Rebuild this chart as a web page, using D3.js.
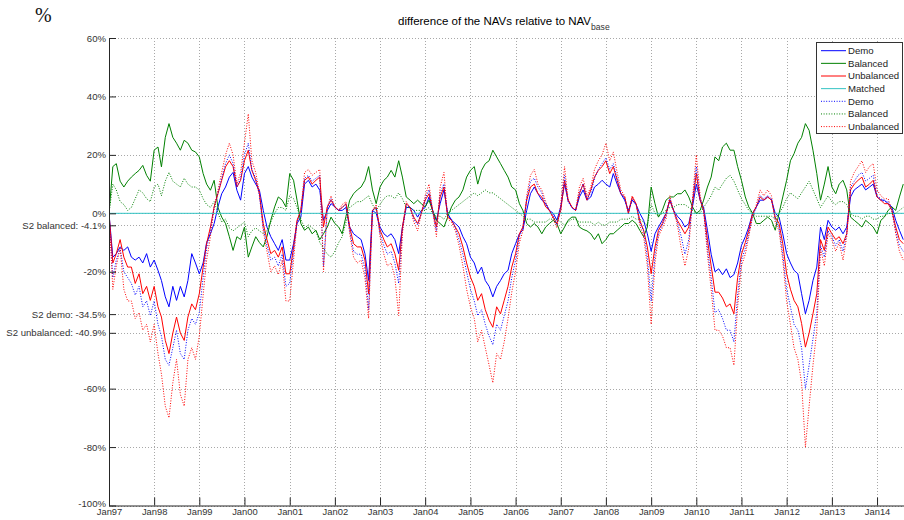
<!DOCTYPE html>
<html>
<head>
<meta charset="utf-8">
<script src="https://cdn.jsdelivr.net/npm/d3@7"></script>
<style>
  body { margin: 0; background: #fff; }
  svg { display: block; font-family: "Liberation Sans", Arial, sans-serif; }
</style>
</head>
<body>
<svg id="chart" width="904" height="520"></svg>
<script>
// Monthly observations starting January 1997 (percent difference vs NAV base)
const startMonth = new Date(1997, 0, 1);
const endDate = new Date(2014, 7, 7);

const demo = [
  0, -15, -13.8, -11.5, -12.7, -11.5, -15, -16, -15, -17, -13.8, -18.4,
  -16, -19.5, -23, -28.6, -32, -25, -29.8, -25, -28.6, -23, -13.8, -17,
  -20.7, -17, -10, -7, -3.5, 2.2, 6.7, 9, 12.4, 14, 7.9, 4.5,
  13.6, 16, 12.4, 10, 7.9, 1, -4.7, -8, -10.4, -12.7, -9, -16,
  -16, -10.4, -3.5, -1.3, 10, 11.3, 9, 10, 7.9, -2.4, 1, 3.3,
  2.2, 1, 1, 2, -4.7, -7, -8, -9, -13.8, -23, 1, 0,
  -4.7, -7, -8, -7, -9, -13.8, -4.7, 2, 2, 1, -1.3, 1,
  2, 5.6, 1, -2.4, 3.3, 8, 0, -2.4, -3.5, -4.7, -8, -10.4,
  -15, -17, -20.7, -18.4, -23, -25, -28.6, -25, -23, -20.7, -19.5, -13.8,
  -10.4, -7, -5.7, 1, 6.7, 9, 6.7, 4.5, 3.3, 1, 0, -2.4,
  2.2, 10, 4.5, 2, 1, 5.6, 8, 4.5, 5.6, 9, 10, 11.3,
  10, 9, 13.6, 10, 6.7, 4.5, 1, 4.5, 3, 0, -2.4, -7,
  -13, -7, -4.7, -2.4, 0, 4.5, 1, -1, -2.4, -4.7, -3.5, 2.2,
  10, 4.5, 2, -5.8, -14, -20, -19, -21, -19, -22, -21, -17,
  -11, -8, -4.7, 0, 2.2, 4.5, 4.5, 5.6, 4.5, 0, -1.3, -7,
  -13.8, -17, -19.5, -20.7, -27.5, -34.4, -29.8, -23, -18.4, -4.7, -9, -2.4,
  -4.7, -5.8, -4.7, -7, -4.7, 5.6, 8, 9, 10, 8, 9, 10,
  5.6, 4.5, 4.5, 3.3, 2.2, -2.4, -5.8, -9
];

const balanced = [
  0, 16, 17, 11, 9, 11, 12.4, 13.6, 14.7, 16.4, 13, 11,
  21.6, 22.7, 15.9, 26, 30.7, 26, 24, 21.6, 25, 24, 21.6, 21,
  19.3, 13.6, 10, 7.9, 11.3, 2, -1.3, -3.5, -8, -12.7, -8, -9,
  -4.7, -15, -11.5, -8, -10, -11.5, -8, -2.4, 2.2, 5.6, 4.5, 2.2,
  13.6, 11.3, 4.5, -3.5, -5.8, -4.7, -7, -5.8, -9, -7, -4.7, -1.3,
  -3.5, -4.7, -7, -1, 4.5, 6.7, 8, 9, 11.3, 16, 8, 3.3,
  9, 11.3, 12.4, 14.7, 12.4, 18, 12.4, 5.6, 4.5, 3.3, 4.5, 3.3,
  2.2, 4.5, 1, -2.4, -3.5, -4.7, -1.3, 2.2, 4.5, 5.6, 8, 12.4,
  14.7, 16, 10, 14.7, 17, 18, 21.6, 19.3, 17, 14.7, 12.4, 9,
  8, 3.3, 1, -3.5, -4.7, -3.5, -4.7, -7, -4.7, -3.5, -2.4, -3.5,
  -7, -4.7, -2.4, -1.3, -1.3, -4.7, -5.5, -6, -7, -9, -7, -10.4,
  -9, -7, -7, -5.8, -4.7, -3.5, -3.5, -2.4, -3.5, -5.8, -8, -4.7,
  9, 3.3, -1.3, 1, 4.5, 5.6, 5.6, 6.7, 6.7, 8, 5.6, 2.2,
  0, 1, 4.5, 9, 12.4, 19.3, 18, 22.7, 24, 21.6, 21.6, 16,
  11.3, 5.6, 2.2, 0, -3.5, -3.5, -2.4, -1.3, -2.4, -5.8, 0, 5.6,
  11.3, 18, 20.4, 24, 26, 30.7, 28.4, 21.6, 13.6, 4.5, 10, 16,
  9, 6.7, 10, 11.3, 8, -1.3, -2.4, -3.5, -4.7, -2.4, -3.5, -4.7,
  -7, -2.4, -1.3, 1, 2.2, 1, 5.6, 10
];

const unbalanced = [
  0, -17, -13.8, -9, -15, -18.4, -18.4, -24, -20.7, -27.5, -25, -29.8,
  -25, -32, -35.5, -43.5, -48, -41, -35.5, -41, -43.5, -35.5, -31, -33,
  -27.5, -18.4, -10.4, -4.7, 2.2, 6.7, 11.3, 15.9, 18, 16, 9, 11.3,
  18, 21.6, 14.7, 11.3, 6.7, -3.5, -9, -13.8, -12.7, -15, -11.5, -20.7,
  -20.7, -11.5, -2.4, 1, 11.3, 12.4, 10, 11.3, 12.4, -4.7, 2.2, 4.5,
  2.2, 1, 2, 3.3, -4.7, -10.4, -11.5, -11.5, -16, -27.5, 1, 2,
  -5.7, -9, -11.5, -10.4, -13.8, -19.5, -4.7, 3.3, 2, -1.3, -3.5, 0,
  4.5, 6.7, 1, -4.7, 5.6, 9, -1.3, -2.4, -4.7, -7, -11.5, -17,
  -21.8, -25, -29.8, -27.5, -33, -36.6, -39, -32, -34.4, -29.8, -25, -18.4,
  -13.8, -7, -4.7, 4.5, 9, 10, 6.7, 5.6, 2.2, 1, -1.3, -3.5,
  1, 11.3, 4.5, 2.2, 1, 6.7, 10, 4.5, 8, 12.4, 14.7, 16,
  18, 13.6, 16, 11.3, 6.7, 5.6, 0, 5.6, 3.3, -2.4, -5.8, -11.5,
  -20.7, -11.5, -5.8, -3.5, 0, 4.5, 1, -2.4, -4.7, -7, -4.7, 3.3,
  13.6, 4.5, 1, -9, -18, -27, -27, -29, -32, -31, -34.4, -22,
  -14, -10, -5.8, 0, 2.2, 5.6, 4.5, 5.6, 4.5, -1.3, -3.5, -10.4,
  -20.7, -26, -29.8, -32, -37.7, -45.8, -41, -34.4, -27.5, -9, -12.7, -4.7,
  -7, -9, -8, -10.4, -7, 8, 10, 11.3, 12.4, 9, 10, 11.3,
  5.6, 4.5, 3.3, 3.3, 1, -4.7, -9, -10.4
];

// The matched portfolio stays on the base NAV over the whole period
const matchedDates = [new Date(1997, 0, 1), new Date(2014, 7, 7)];
const matched = [0, 0];

const demoS2 = [
  0, -22, -16, -12, -20, -22, -24, -28, -25, -32, -30, -35,
  -30, -38, -42, -50, -52, -46, -40, -48, -50, -40, -36, -38,
  -34, -22, -12, -6, 2, 7, 12, 17, 20, 17, 9, 12,
  20, 24, 15, 12, 6, -5, -11, -16, -15, -18, -14, -25,
  -24, -13, -3, 1, 12, 13, 11, 12, 13, -18, 2, 5,
  2, 1, 2, 3, -6, -13, -14, -14, -19, -33, 1, 2,
  -7, -11, -14, -13, -17, -24, -6, 3, 2, -2, -4, 0,
  5, 8, 1, -6, 7, 10, -1, -2, -5, -9, -14, -20,
  -26, -30, -35, -33, -38, -42, -45, -38, -40, -35, -30, -22,
  -16, -8, -5, 5, 11, 12, 9, 7, 3, 1, -1, -4,
  2, 13, 4, 2, 1, 7, 10, 5, 7, 12, 15, 17,
  19, 15, 17, 12, 7, 5, 0, 5, 3, -3, -6, -15,
  -30, -14, -7, -4, -1, 5, 1, -3, -8, -14, -9, 4,
  16, 5, 1, -12, -22, -34, -33, -36, -40, -40, -44, -28,
  -16, -12, -7, -1, 2, 6, 5, 6, 5, -2, -5, -14,
  -26, -32, -38, -40, -46, -60, -52, -43, -34, -11, -15, -6,
  -8, -11, -9, -13, -7, 9, 11, 13, 14, 11, 12, 13,
  6, 5, 4, 4, 1, -6, -11, -13
];

const balancedS2 = [
  0, 10, 8, 4, 3, 1, 2, 5, 8, 7, 5, 4,
  9, 10, 6, 11, 14, 11, 10, 9, 12, 10, 9, 9,
  8, 5, 3, 2, 4, 0, -3, -2, -5, -6, -5, -4,
  -3, -8, -6, -5, -6, -7, -6, -3, 0, 2, 2, 1,
  6, 5, 2, -2, -5, -4, -5, -6, -10, -12, -14, -15,
  -13, -10, -8, -3, 2, 3, 4, 4, 5, 6, 3, 1,
  3, 5, 6, 6, 5, 7, 5, 2, 2, 1, 1, 1,
  1, 2, 0, -1, -1, -2, 0, 1, 2, 3, 4, 5,
  6, 7, 6, 7, 8, 7, 7, 6, 5, 4, 3, 2,
  1, 0, -1, -2, -2, -3, -3, -3, -3, -2, -2, -2,
  -3, -4, -3, -2, -2, -3, -3, -3, -3, -4, -3, -4,
  -4, -3, -3, -3, -2, -2, -2, -1, -2, -2, -3, -4,
  3, 0, -1, 0, 1, 2, 2, 3, 3, 3, 2, 1,
  0, 0, 2, 4, 6, 9, 8, 10, 12, 13, 11, 8,
  5, 3, 1, 0, -1, -1, -1, -1, -1, -2, 0, 2,
  5, 7, 6, 5, 7, 9, 11, 8, 5, 2, 4, 6,
  4, 3, 4, 4, 3, 0, -1, -1, -2, -1, -1, -2,
  -2, -1, -1, 0, 0, 0, 1, 2
];

const unbalancedS2 = [
  0, -26, -18, -12, -26, -30, -30, -36, -34, -40, -38, -44,
  -38, -48, -55, -66, -70, -58, -50, -62, -66, -50, -46, -50,
  -42, -28, -16, -8, 2, 8, 14, 20, 24, 20, 10, 14,
  24, 34, 18, 14, 7, -6, -13, -20, -18, -21, -16, -30,
  -30, -16, -3, 1, 14, 15, 13, 14, 15, -20, 2, 6,
  2, 1, 3, 4, -7, -15, -17, -16, -22, -36, 1, 3,
  -8, -14, -18, -17, -22, -35, -7, 4, 2, -3, -6, 0,
  6, 10, 1, -8, 9, 14, -2, -3, -6, -11, -18, -26,
  -32, -36, -44, -40, -46, -52, -58, -48, -50, -44, -36, -27,
  -20, -10, -6, 6, 13, 15, 10, 8, 4, 1, -2, -5,
  3, 16, 5, 2, 1, 9, 12, 6, 9, 15, 18, 20,
  24, 18, 21, 14, 8, 6, 0, 6, 3, -4, -8, -18,
  -38, -17, -8, -5, -2, 6, 1, -4, -12, -18, -12, 5,
  20, 6, 1, -14, -26, -40, -40, -42, -46, -46, -52, -32,
  -18, -14, -8, -1, 3, 8, 6, 8, 6, -3, -6, -16,
  -30, -38, -46, -50, -58, -80, -66, -52, -40, -12, -18, -7,
  -9, -13, -10, -16, -8, 11, 14, 16, 18, 14, 16, 17,
  8, 6, 5, 5, 1, -7, -13, -16
];

// Axis ticks
const yTickValues = [60, 40, 20, 0, -4.1, -20, -34.5, -40.9, -60, -80, -100];
const yTickLabels = ["60%", "40%", "20%", "0%", "S2 balanced: -4.1%", "-20%",
                     "S2 demo: -34.5%", "S2 unbalanced: -40.9%", "-60%", "-80%", "-100%"];
const xTickYears = [1997, 1998, 1999, 2000, 2001, 2002, 2003, 2004, 2005,
                    2006, 2007, 2008, 2009, 2010, 2011, 2012, 2013, 2014];

const legendNames = ["Demo", "Balanced", "Unbalanced", "Matched", "Demo", "Balanced", "Unbalanced"];

// ---- drawing ----
const svg = d3.select("#chart");
const W = 904, H = 520;
const plotLeft = 109, plotRight = 904, plotTop = 38, plotBottom = 505.5;

const x = d3.scaleTime().domain([startMonth, endDate]).range([plotLeft, plotRight]);
const y = d3.scaleLinear().domain([-100, 60]).range([plotBottom, plotTop]);

svg.append("rect").attr("width", W).attr("height", H).attr("fill", "#fff");

// grid
const grid = svg.append("g").attr("stroke", "#a8a8a8").attr("stroke-width", 1)
  .attr("stroke-dasharray", "1,2").attr("fill", "none");
yTickValues.forEach(v => {
  const yy = Math.round(y(v)) + 0.5;
  grid.append("line").attr("x1", plotLeft).attr("x2", plotRight).attr("y1", yy).attr("y2", yy);
});
xTickYears.slice(1).forEach(yr => {
  const xx = Math.round(x(new Date(yr, 0, 1))) + 0.5;
  grid.append("line").attr("x1", xx).attr("x2", xx).attr("y1", plotTop).attr("y2", plotBottom);
});

// data lines
svg.append("clipPath").attr("id", "plotclip").append("rect")
  .attr("x", plotLeft).attr("y", plotTop)
  .attr("width", plotRight - plotLeft).attr("height", plotBottom - plotTop);
const plot = svg.append("g").attr("clip-path", "url(#plotclip)");

const monthLine = d3.line()
  .x((d, i) => x(d3.timeMonth.offset(startMonth, i)))
  .y(d => y(d));
const dateLine = d3.line()
  .x((d, i) => x(matchedDates[i]))
  .y(d => y(d));

const series = [
  { values: demo, color: "#0000ff", dash: null, line: monthLine },
  { values: balanced, color: "#008000", dash: null, line: monthLine },
  { values: unbalanced, color: "#ff0000", dash: null, line: monthLine },
  { values: matched, color: "#33c3c3", dash: null, line: dateLine },
  { values: demoS2, color: "#0000ff", dash: "1,1.6", line: monthLine },
  { values: balancedS2, color: "#008000", dash: "1,1.6", line: monthLine },
  { values: unbalancedS2, color: "#ff0000", dash: "1,1.6", line: monthLine }
];

series.forEach(s => {
  plot.append("path")
    .attr("d", s.line(s.values))
    .attr("fill", "none")
    .attr("stroke", s.color)
    .attr("stroke-width", 1)
    .attr("stroke-dasharray", s.dash)
    .attr("stroke-linejoin", "round");
});

// axes (ticks point inward)
const yAxis = d3.axisLeft(y).tickValues(yTickValues)
  .tickFormat((d, i) => yTickLabels[i]).tickSizeInner(-7).tickSizeOuter(0).tickPadding(3);
const gy = svg.append("g").attr("transform", `translate(${plotLeft},0)`).call(yAxis);
gy.select(".domain").attr("stroke", "#262626");
gy.selectAll(".tick line").attr("stroke", "#262626");
gy.selectAll(".tick text").attr("fill", "#333").attr("font-size", 9.6)
  .attr("font-family", "'Liberation Sans', Arial, sans-serif");
// lift the bottom label slightly so it clears the first date label
gy.selectAll(".tick text").filter(d => d === -100).attr("dy", "0.1em");

const xAxis = d3.axisBottom(x).tickValues(xTickYears.map(yr => new Date(yr, 0, 1)))
  .tickFormat(d3.timeFormat("%b%y")).tickSizeInner(-8).tickSizeOuter(0).tickPadding(3);
const gx = svg.append("g").attr("transform", `translate(0,${plotBottom})`).call(xAxis);
gx.select(".domain").attr("stroke", "#262626");
gx.selectAll(".tick line").attr("stroke", "#262626");
gx.selectAll(".tick text").attr("fill", "#333").attr("font-size", 9.4)
  .attr("font-family", "'Liberation Sans', Arial, sans-serif");

// unit label and title
svg.append("text").attr("x", 35).attr("y", 22)
  .attr("font-family", "'Liberation Serif', 'Times New Roman', serif")
  .attr("font-size", 20).attr("fill", "#111").text("%");

const title = svg.append("text").attr("x", 398).attr("y", 25)
  .attr("font-size", 11.5).attr("fill", "#000");
title.append("tspan").text("difference of the NAVs relative to NAV");
title.append("tspan").attr("dy", 5).attr("font-size", 8.6).attr("fill", "#333").text("base");

// legend
const lg = svg.append("g");
lg.append("rect").attr("x", 816.5).attr("y", 42.5).attr("width", 86).attr("height", 91)
  .attr("fill", "#fff").attr("stroke", "#333").attr("stroke-width", 1);
series.forEach((s, i) => {
  const yy = 50.7 + i * 12.65;
  lg.append("line").attr("x1", 821).attr("x2", 846).attr("y1", yy).attr("y2", yy)
    .attr("stroke", s.color).attr("stroke-width", 1).attr("stroke-dasharray", s.dash);
  lg.append("text").attr("x", 848).attr("y", yy).attr("dy", "0.35em")
    .attr("font-size", 9.6).attr("fill", "#222").text(legendNames[i]);
});
</script>
</body>
</html>
